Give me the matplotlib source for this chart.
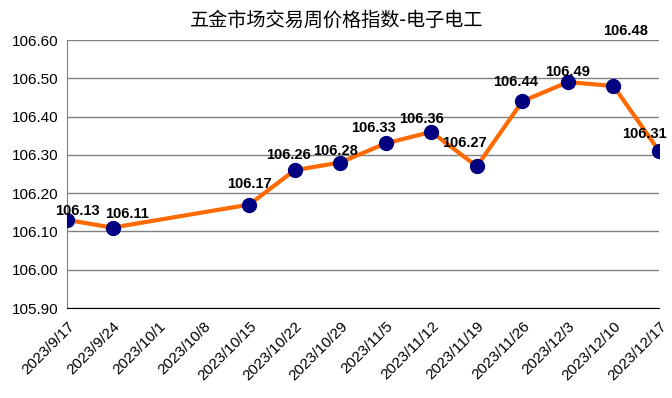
import matplotlib
matplotlib.use("Agg")
import matplotlib.pyplot as plt
import pandas as pd

plt.rcParams['font.family'] = ['Liberation Sans', 'DejaVu Sans']

# weekly index, missing weeks 10/1 and 10/8
dates = ["2023-09-17", "2023-09-24", "2023-10-15", "2023-10-22", "2023-10-29",
         "2023-11-05", "2023-11-12", "2023-11-19", "2023-11-26", "2023-12-03",
         "2023-12-10", "2023-12-17"]
values = [106.13, 106.11, 106.17, 106.26, 106.28, 106.33, 106.36, 106.27,
          106.44, 106.49, 106.48, 106.31]
tick_dates = pd.date_range("2023-09-17", "2023-12-17", freq="7D")
tick_labels = ["{}/{}/{}".format(d.year, d.month, d.day) for d in tick_dates]

# label offsets in pixels (dx, dy), roughly as Excel placed them
label_offsets = [(10, 9), (14, 14), (0, 21), (-6, 15), (-5, 12), (-12, 15),
                 (-10, 13), (-12, 23), (-7, 19), (0, 10), (12, 55), (-15, 17)]

title = "五金市场交易周价格指数-电子电工"

fig = plt.figure(figsize=(6.72, 3.98), dpi=100)
ax = fig.add_axes([67 / 672, 1 - 308 / 398, 592 / 672, 268 / 398])

x = pd.to_datetime(dates)
ax.plot(x, values, color="#FF6A00", lw=3, zorder=3)
ax.plot(x, values, "o", color="#000080", ms=10, zorder=4)

for xi, v, (dx, dy) in zip(x, values, label_offsets):
    ax.annotate("{:.2f}".format(v), (xi, v), xytext=(dx * 0.72, dy * 0.72),
                textcoords="offset points", ha="center", va="center",
                fontsize=10.5, fontweight="bold", zorder=5)

ax.set_xlim(tick_dates[0], tick_dates[-1])
ax.set_ylim(105.9, 106.6)
ax.set_yticks([105.9 + 0.1 * i for i in range(8)])
ax.set_yticklabels(["{:.2f}".format(105.9 + 0.1 * i) for i in range(8)], fontsize=11)
ax.set_xticks(tick_dates)
ax.set_xticklabels(tick_labels, rotation=45, ha="right", rotation_mode="anchor", fontsize=11)
ax.tick_params(length=0, pad=6)
ax.tick_params(axis="x", pad=8)

ax.grid(axis="y", color="#808080", lw=1)
ax.set_axisbelow(True)
for s in ["top", "right"]:
    ax.spines[s].set_visible(False)
ax.spines["left"].set_color("#808080")
ax.spines["bottom"].set_color("black")

fig.text(337 / 672, 1 - 20 / 398, title, ha="center", va="center", fontsize=13.8,
         family=["Noto Sans CJK SC", "DejaVu Sans"])

fig.savefig("out.png", dpi=100, facecolor="white")
